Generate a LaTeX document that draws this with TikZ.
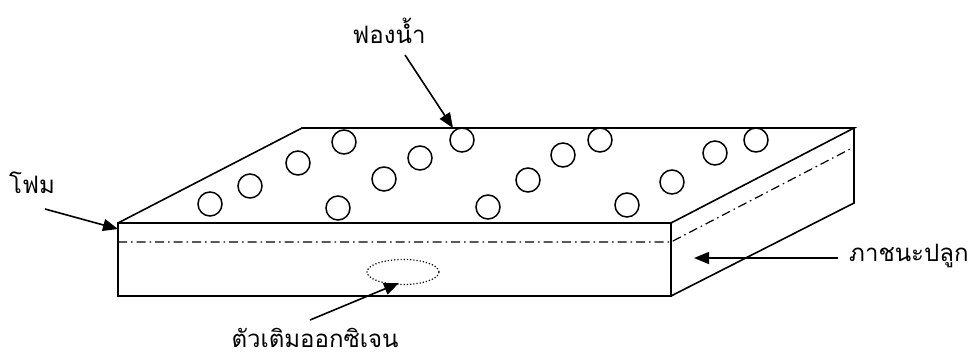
\documentclass[tikz,border=0pt]{standalone}
\usepackage{fontspec}
\newfontfamily\thaifont[Script=Thai]{Loma}
\usetikzlibrary{arrows.meta,shapes.geometric}
\begin{document}
\begin{tikzpicture}[x=1pt,y=-1pt,
  edge/.style={line width=1.6pt, line join=miter},
  arr/.style={line width=1.6pt, -{Triangle[length=15pt,width=12pt]}},
  bubble/.style={circle, draw, line width=1.5pt, minimum size=24pt, inner sep=0pt},
  lbl/.style={font=\thaifont\fontsize{24}{28}\selectfont, inner sep=0pt}]
\useasboundingbox (0,0) rectangle (970,360);
% corners of the tray
\coordinate (f0) at (118,223);
\coordinate (f1) at (671,223);
\coordinate (f2) at (671,296);
\coordinate (f3) at (118,296);
\coordinate (b0) at (302,128);
\coordinate (b1) at (854,128);
\coordinate (b2) at (854,203);
\draw[edge] (f0) rectangle (f2);
\draw[edge] (f0) -- (b0) -- (b1) -- (f1);
\draw[edge] (b1) -- (b2) -- (f2);
% foam layer boundary
\coordinate (d0) at (118,242);
\coordinate (d1) at (671,242);
\coordinate (d2) at (854,147);
\draw[line width=1.2pt, dash pattern=on 9pt off 4pt on 1.5pt off 4pt] (d0) -- (d1) -- (d2);
% bubbles on the foam
\foreach \x/\y [count=\i] in {210/204,250/186,298/163,344/142,338/208,384/179,420/158,462/140,
  488/207,528/180,563/155,600/140,627/205,672/182,715/153,756/140}
  \node[bubble] (bub\i) at (\x,\y) {};
% oxygen filler
\node[ellipse, draw, dotted, line width=1.2pt, minimum width=72pt, minimum height=25pt] (oxy) at (403,272) {};
% labels
\node[lbl] (bublbl) at (389,31) {ฟองน้ำ};
\node[lbl] (foamlbl) at (32,183) {โฟม};
\node[lbl, anchor=west] (traylbl) at (849,256) {ภาชนะปลูก};
\node[lbl, anchor=base] (oxylbl) at (315,347) {ตัวเติมออกซิเจน};
\coordinate (t0) at (405,55);
\coordinate (h0) at (453,128);
\coordinate (t1) at (45,209);
\coordinate (h1) at (118,229);
\coordinate (t2) at (838,258);
\coordinate (h2) at (694,258);
\coordinate (t3) at (310,320);
\coordinate (h3) at (399,283);
\draw[arr] (t0) -- (h0);
\draw[arr] (t1) -- (h1);
\draw[arr] (t2) -- (h2);
\draw[arr] (t3) -- (h3);
\end{tikzpicture}
\end{document}
